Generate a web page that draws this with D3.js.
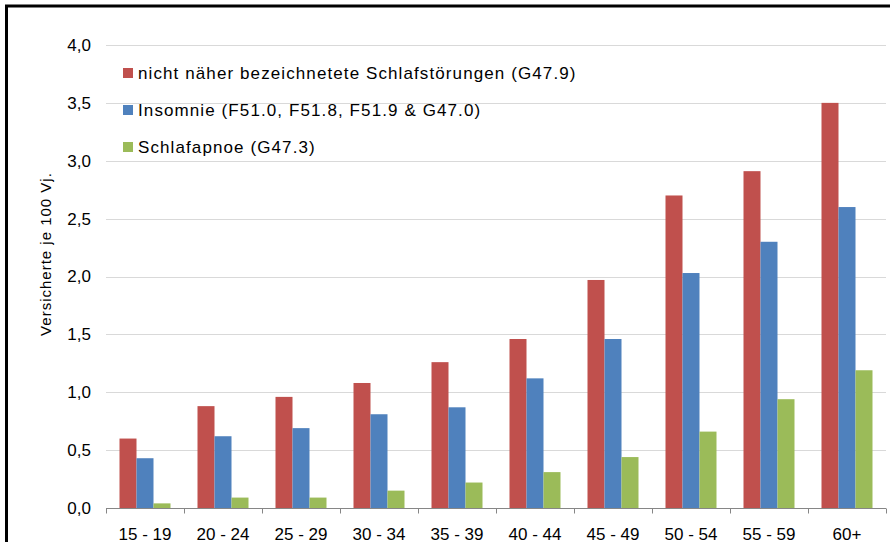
<!DOCTYPE html>
<html>
<head>
<meta charset="utf-8">
<script src="https://cdn.jsdelivr.net/npm/d3@7"></script>
<style>
  body { margin: 0; background: #fff; }
  svg { display: block; font-family: "Liberation Sans", Arial, sans-serif; }
</style>
</head>
<body>
<svg id="chart" width="890" height="542"></svg>
<script>
var categories = ["15 - 19", "20 - 24", "25 - 29", "30 - 34", "35 - 39", "40 - 44", "45 - 49", "50 - 54", "55 - 59", "60+"];
var seriesNames = ["nicht näher bezeichnetete Schlafstörungen (G47.9)", "Insomnie (F51.0, F51.8, F51.9 & G47.0)", "Schlafapnoe (G47.3)"];
var seriesColors = ["#C0504D", "#4F81BD", "#9BBB59"];
var unspecified = [0.60, 0.88, 0.96, 1.08, 1.26, 1.46, 1.97, 2.70, 2.91, 3.50];
var insomnia = [0.43, 0.62, 0.69, 0.81, 0.87, 1.12, 1.46, 2.03, 2.30, 2.60];
var apnea = [0.04, 0.09, 0.09, 0.15, 0.22, 0.31, 0.44, 0.66, 0.94, 1.19];
var yTicks = [0, 0.5, 1, 1.5, 2, 2.5, 3, 3.5, 4];
var yTitle = "Versicherte je 100 Vj.";

window.onload = function() {
    var series = [unspecified, insomnia, apnea];
    var svg = d3.select("#chart");

    // outer frame (right/bottom run off the picture)
    svg.append("rect")
        .attr("x", 6.5).attr("y", 6)
        .attr("width", 900).attr("height", 560)
        .attr("fill", "none")
        .attr("stroke", "#000")
        .attr("stroke-width", 3);

    var left = 106, right = 886, top = 45, bottom = 508;

    var x = d3.scaleBand()
        .domain(categories)
        .range([left, right])
        .paddingInner(0)
        .paddingOuter(0);

    var xInner = d3.scaleBand()
        .domain([0, 1, 2])
        .range([13.5, x.bandwidth() - 13.5]);

    var y = d3.scaleLinear()
        .domain([0, 4])
        .range([bottom, top]);

    // gridlines
    svg.append("g")
        .selectAll("line").data(yTicks.filter(function(d) { return d > 0; }))
        .enter().append("line")
        .attr("x1", left).attr("x2", right)
        .attr("y1", function(d) { return Math.round(y(d)) + 0.5; })
        .attr("y2", function(d) { return Math.round(y(d)) + 0.5; })
        .attr("stroke", "#d9d9d9")
        .attr("stroke-width", 1);

    // bars
    var group = svg.append("g").selectAll("g").data(categories)
        .enter().append("g")
        .attr("transform", function(d) { return "translate(" + x(d) + ",0)"; });

    group.selectAll("rect")
        .data(function(d, i) {
            return series.map(function(s, k) { return { k: k, v: s[i] }; });
        })
        .enter().append("rect")
        .attr("x", function(d) { return xInner(d.k); })
        .attr("width", xInner.bandwidth())
        .attr("y", function(d) { return y(d.v); })
        .attr("height", function(d) { return bottom - y(d.v); })
        .attr("fill", function(d) { return seriesColors[d.k]; });

    // x axis
    var xAxis = svg.append("g")
        .attr("transform", "translate(0," + (bottom + 0.5) + ")");
    xAxis.append("line")
        .attr("x1", left).attr("x2", right)
        .attr("stroke", "#868686");
    xAxis.selectAll("line.tick")
        .data(d3.range(categories.length + 1))
        .enter().append("line")
        .attr("class", "tick")
        .attr("x1", function(d) { return Math.round(left + d * x.bandwidth()) + 0.5; })
        .attr("x2", function(d) { return Math.round(left + d * x.bandwidth()) + 0.5; })
        .attr("y1", 0).attr("y2", 5)
        .attr("stroke", "#868686");
    xAxis.selectAll("text")
        .data(categories)
        .enter().append("text")
        .attr("x", function(d) { return x(d) + x.bandwidth() / 2; })
        .attr("y", 31)
        .attr("text-anchor", "middle")
        .attr("font-size", "17px")
        .attr("fill", "#000")
        .text(function(d) { return d; });

    // y axis labels
    svg.append("g").selectAll("text")
        .data(yTicks)
        .enter().append("text")
        .attr("x", 91)
        .attr("y", function(d) { return y(d); })
        .attr("dy", "0.35em")
        .attr("text-anchor", "end")
        .attr("font-size", "17px")
        .attr("fill", "#000")
        .text(function(d) { return d3.format(".1f")(d).replace(".", ","); });

    svg.append("text")
        .attr("transform", "translate(51,254) rotate(-90)")
        .attr("text-anchor", "middle")
        .attr("font-size", "15px")
        .attr("letter-spacing", "1px")
        .attr("fill", "#000")
        .text(yTitle);

    // legend
    var legend = svg.append("g").selectAll("g")
        .data(seriesNames)
        .enter().append("g")
        .attr("transform", function(d, i) { return "translate(123," + (73 + i * 37) + ")"; });
    legend.append("rect")
        .attr("x", 0).attr("y", -5)
        .attr("width", 10).attr("height", 10)
        .attr("fill", function(d, i) { return seriesColors[i]; });
    legend.append("text")
        .attr("x", 15)
        .attr("y", 0)
        .attr("dy", "0.36em")
        .attr("font-size", "17px")
        .attr("letter-spacing", "1.1px")
        .attr("fill", "#000")
        .text(function(d) { return d; });
};
</script>
</body>
</html>
